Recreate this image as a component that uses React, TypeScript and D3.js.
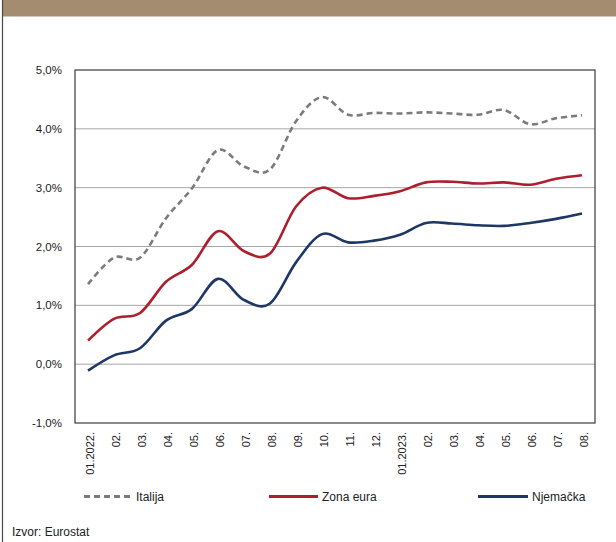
import React from "react";
import * as d3 from "d3";

const categories = [
  "01.2022.", "02.", "03.", "04.", "05.", "06.", "07.", "08.", "09.", "10.",
  "11.", "12.", "01.2023.", "02.", "03.", "04.", "05.", "06.", "07.", "08.",
];
const italija = [1.36, 1.81, 1.81, 2.48, 2.99, 3.64, 3.36, 3.31, 4.13, 4.54, 4.24, 4.27, 4.26, 4.28, 4.26, 4.24, 4.32, 4.08, 4.18, 4.23];
const zonaEura = [0.40, 0.77, 0.87, 1.40, 1.69, 2.26, 1.92, 1.88, 2.68, 3.00, 2.82, 2.86, 2.94, 3.09, 3.10, 3.07, 3.09, 3.05, 3.15, 3.21];
const njemacka = [-0.11, 0.15, 0.27, 0.74, 0.94, 1.45, 1.09, 1.03, 1.73, 2.21, 2.07, 2.10, 2.20, 2.40, 2.39, 2.36, 2.35, 2.40, 2.47, 2.56];
const yTicks = [-1, 0, 1, 2, 3, 4, 5];
const seriesNames = ["Italija", "Zona eura", "Njemačka"];

const W = 616;
const H = 542;
const m = { left: 75, right: 595, top: 70, bottom: 423 };
const FONT = "'Liberation Sans', Arial, sans-serif";

export default function App() {
  const x = d3.scalePoint<number>().domain(d3.range(categories.length)).range([m.left, m.right]).padding(0.5);
  const y = d3.scaleLinear().domain([-1, 5]).range([m.bottom, m.top]);
  const line = d3
    .line<number>()
    .x((_, i) => x(i) as number)
    .y((d) => y(d))
    .curve(d3.curveCardinal.tension(0));

  const series = [
    { name: seriesNames[0], data: italija, color: "#7b7b7b", dash: "6,4" },
    { name: seriesNames[1], data: zonaEura, color: "#ad1f2c", dash: undefined },
    { name: seriesNames[2], data: njemacka, color: "#1f3764", dash: undefined },
  ];
  const legendPos = [
    { x1: 84, x2: 133, tx: 136 },
    { x1: 269, x2: 318, tx: 322 },
    { x1: 478, x2: 528, tx: 532 },
  ];
  const fmt = (v: number) => v.toFixed(1).replace(".", ",") + "%";

  return (
    <div style={{ position: "fixed", left: 0, top: 0 }}>
      <svg width={W} height={H} style={{ display: "block", background: "#fff" }}>
        <rect x={2.5} y={0} width={W - 2.5} height={16.5} fill="#a48c70" />
        <line x1={2.5} x2={2.5} y1={0} y2={H} stroke="#4a4a4a" strokeWidth={1.2} />
        {yTicks.filter((t) => t > -1 && t < 5).map((t) => (
          <line key={t} x1={m.left} x2={m.right} y1={y(t)} y2={y(t)} stroke="#a6a6a6" strokeWidth={1} />
        ))}
        <rect x={m.left} y={m.top} width={m.right - m.left} height={m.bottom - m.top} fill="none" stroke="#3a3a3a" strokeWidth={1.2} />
        {yTicks.map((t) => (
          <text key={t} x={62} y={y(t)} dy="0.35em" textAnchor="end" fontFamily={FONT} fontSize={11.5} fill="#222">
            {fmt(t)}
          </text>
        ))}
        {categories.map((c, i) => (
          <text
            key={i}
            transform={`translate(${(x(i) as number) + 2},${m.bottom + 9}) rotate(-90)`}
            dy="0.35em"
            textAnchor="end"
            fontFamily={FONT}
            fontSize={11}
            fill="#222"
          >
            {c}
          </text>
        ))}
        {series.map((s) => (
          <path key={s.name} d={line(s.data) || ""} fill="none" stroke={s.color} strokeWidth={2.6} strokeDasharray={s.dash} />
        ))}
        {series.map((s, i) => (
          <g key={s.name}>
            <line x1={legendPos[i].x1} x2={legendPos[i].x2} y1={496.5} y2={496.5} stroke={s.color} strokeWidth={2.8} strokeDasharray={s.dash ? "6,4" : undefined} />
            <text x={legendPos[i].tx} y={496.5} dy="0.35em" fontFamily={FONT} fontSize={12} fill="#222">
              {s.name}
            </text>
          </g>
        ))}
        <text x={12} y={532} dy="0.35em" fontFamily={FONT} fontSize={12} fill="#222">
          Izvor: Eurostat
        </text>
      </svg>
    </div>
  );
}
